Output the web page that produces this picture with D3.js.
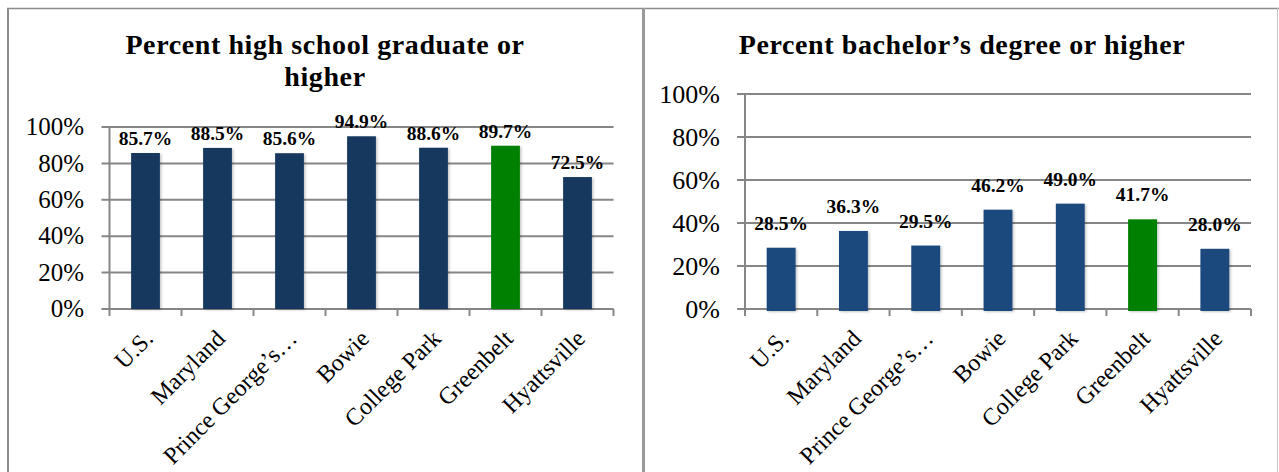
<!DOCTYPE html>
<html>
<head>
<meta charset="utf-8">
<script src="https://cdn.jsdelivr.net/npm/d3@7"></script>
<style>
  html, body { margin: 0; padding: 0; background: #fff; }
  svg { display: block; font-family: "Liberation Serif", "Times New Roman", serif; }
</style>
</head>
<body>
<svg id="chart" width="1279" height="472"></svg>
<script>
// Educational attainment by place
const places = ["U.S.", "Maryland", "Prince George\u2019s\u2026", "Bowie", "College Park", "Greenbelt", "Hyattsville"];
const highSchool = [85.7, 88.5, 85.6, 94.9, 88.6, 89.7, 72.5];
const bachelors = [28.5, 36.3, 29.5, 46.2, 49.0, 41.7, 28.0];
const yTicks = [0, 20, 40, 60, 80, 100];
const highlight = "Greenbelt";

const svg = d3.select("#chart");

const defs = svg.append("defs");
defs.append("filter").attr("id", "barShadow")
  .attr("x", "-30%").attr("y", "-10%").attr("width", "160%").attr("height", "130%")
  .append("feDropShadow")
  .attr("dx", 1.5).attr("dy", 1).attr("stdDeviation", 1.2)
  .attr("flood-color", "#000").attr("flood-opacity", 0.22);

// panel frames
const frameColor = "#8c8c8c";
svg.append("line").attr("x1", 7).attr("x2", 1279).attr("y1", 8.5).attr("y2", 8.5)
  .attr("stroke", frameColor).attr("stroke-width", 1.5);
svg.append("line").attr("x1", 8).attr("x2", 8).attr("y1", 8).attr("y2", 472)
  .attr("stroke", frameColor).attr("stroke-width", 2);
svg.append("line").attr("x1", 643.5).attr("x2", 643.5).attr("y1", 8).attr("y2", 472)
  .attr("stroke", "#999").attr("stroke-width", 3);
svg.append("line").attr("x1", 1277.5).attr("x2", 1277.5).attr("y1", 8).attr("y2", 472)
  .attr("stroke", "#c4c4c4").attr("stroke-width", 1);

function drawPanel(cfg) {
  const g = svg.append("g");
  const x = d3.scaleBand().domain(places).range([cfg.left, cfg.right]).padding(0);
  const y = d3.scaleLinear().domain([0, 100]).range([cfg.bottom, cfg.top]);
  const barW = x.bandwidth() * 0.4;
  const gridColor = "#868686";

  // title
  const title = g.append("text")
    .attr("text-anchor", "middle")
    .attr("font-weight", "bold")
    .attr("font-size", 28)
    .attr("letter-spacing", 0.6)
    .attr("fill", "#000");
  cfg.title.forEach((line, i) => {
    title.append("tspan").attr("x", cfg.titleX).attr("y", 54 + i * 32).text(line);
  });

  // gridlines with y ticks
  g.selectAll(".grid").data(yTicks).join("line")
    .attr("x1", cfg.left - 8).attr("x2", cfg.right)
    .attr("y1", d => y(d)).attr("y2", d => y(d))
    .attr("stroke", gridColor).attr("stroke-width", 2);

  g.selectAll(".ylab").data(yTicks).join("text")
    .attr("x", cfg.yLabelX).attr("y", d => y(d)).attr("dy", "0.33em")
    .attr("text-anchor", "end")
    .attr("font-size", cfg.yLabelSize)
    .attr("fill", "#000")
    .text(d => d + "%");

  // y axis line
  g.append("line")
    .attr("x1", cfg.left).attr("x2", cfg.left)
    .attr("y1", y(100)).attr("y2", y(0) + 7)
    .attr("stroke", gridColor).attr("stroke-width", 2);

  // x tick marks at category boundaries
  const bounds = places.map(p => x(p)).concat([cfg.right]);
  g.selectAll(".xtick").data(bounds.slice(1)).join("line")
    .attr("x1", d => d).attr("x2", d => d)
    .attr("y1", y(0)).attr("y2", y(0) + 7)
    .attr("stroke", gridColor).attr("stroke-width", 2);

  // bars
  const data = places.map((p, i) => ({ place: p, value: cfg.values[i] }));
  g.selectAll(".bar").data(data).join("rect")
    .attr("x", d => x(d.place) + (x.bandwidth() - barW) / 2)
    .attr("width", barW)
    .attr("y", d => y(d.value))
    .attr("height", d => y(0) - y(d.value) + cfg.barExtra)
    .attr("fill", d => d.place === highlight ? "#008000" : cfg.barColor)
    .attr("filter", "url(#barShadow)");

  // value labels
  g.selectAll(".val").data(data).join("text")
    .attr("x", d => x(d.place) + x.bandwidth() / 2)
    .attr("y", d => y(d.value) - cfg.labelGap)
    .attr("text-anchor", "middle")
    .attr("font-weight", "bold")
    .attr("font-size", 19.5)
    .attr("fill", "#000")
    .text(d => d.value.toFixed(1) + "%");

  // category labels
  g.selectAll(".cat").data(places).join("text")
    .attr("transform", d => `translate(${x(d) + x.bandwidth() / 2 + 9},${y(0) + 31}) rotate(-45)`)
    .attr("text-anchor", "end")
    .attr("font-size", 24)
    .attr("fill", "#000")
    .text(d => d);
}

drawPanel({
  title: ["Percent high school graduate or", "higher"],
  titleX: 325,
  values: highSchool,
  left: 109.5, right: 613.5, top: 127, bottom: 309,
  yLabelX: 84, yLabelSize: 25,
  barColor: "#17375E", barExtra: 0, labelGap: 8
});

drawPanel({
  title: ["Percent bachelor\u2019s degree or higher"],
  titleX: 962,
  values: bachelors,
  left: 745, right: 1251, top: 94, bottom: 309,
  yLabelX: 720, yLabelSize: 26,
  barColor: "#1F497D", barExtra: 2, labelGap: 18
});
</script>
</body>
</html>
